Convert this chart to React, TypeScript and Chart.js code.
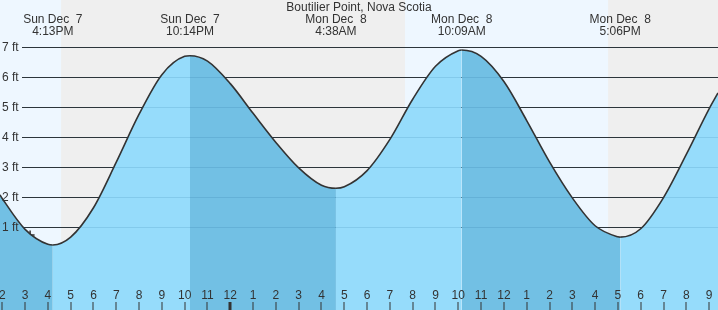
import React, { useEffect, useRef } from "react";
import { Chart, registerables } from "chart.js";

Chart.register(...registerables);

const chartTitle = "Boutilier Point, Nova Scotia";

// hours counted from Sun Dec 7 00:00, tide height in feet
const tideHours = [
  13.9, 14, 15, 16, 16.217, 17, 18, 19, 20, 21, 22, 22.233,
  23, 24, 25, 26, 27, 28, 28.633, 29, 30, 31, 32, 33, 34, 34.15,
  35, 36, 37, 38, 39, 40, 41, 41.1, 42, 43, 44, 45, 45.39,
];
const tideFeet = [
  2.07, 1.95, 0.92, 0.42, 0.4, 0.66, 1.64, 3.16, 4.76, 6.08, 6.69, 6.71,
  6.53, 5.78, 4.79, 3.82, 2.97, 2.39, 2.29, 2.34, 2.88, 3.92, 5.26, 6.36, 6.88, 6.9,
  6.69, 5.85, 4.55, 3.17, 1.97, 1.04, 0.67, 0.66, 0.94, 1.98, 3.42, 4.94, 5.47,
];

const extremeHours = [16.217, 22.233, 28.633, 34.15, 41.1];
const extremeDays = ["Sun Dec  7", "Sun Dec  7", "Mon Dec  8", "Mon Dec  8", "Mon Dec  8"];
const extremeTimes = ["4:13PM", "10:14PM", "4:38AM", "10:09AM", "5:06PM"];

const tickHours = [
  14, 15, 16, 17, 18, 19, 20, 21, 22, 23, 24, 25, 26, 27, 28, 29,
  30, 31, 32, 33, 34, 35, 36, 37, 38, 39, 40, 41, 42, 43, 44, 45,
];
const tickLabels = [
  "2", "3", "4", "5", "6", "7", "8", "9", "10", "11", "12", "1", "2", "3", "4", "5",
  "6", "7", "8", "9", "10", "11", "12", "1", "2", "3", "4", "5", "6", "7", "8", "9",
];
const midnightHours = [24];

const feetTicks = [1, 2, 3, 4, 5, 6, 7];
const feetLabels = ["1 ft", "2 ft", "3 ft", "4 ft", "5 ft", "6 ft", "7 ft"];

const nightStarts = [16.58, 40.57];
const nightEnds = [31.66, 45.39];

const nowHours = [15.22];
const nowFeet = [0.73];

const X_MIN = 13.9;
const X_MAX = 45.39;
const Y_MIN = -1.77;
const Y_MAX = 8.57;

const FONT = "12px 'Liberation Sans', Arial, sans-serif";
const TEXT = "#333";
const DAY = "#eef7ff";
const NIGHT = "#efefef";
const RISING = "rgb(150,220,251)";
const FALLING = "rgb(114,192,228)";

const tidePlugin = {
  id: "tideDecor",
  beforeDatasetsDraw(chart: any) {
    const { ctx, chartArea: a, scales } = chart;
    const x = scales.x;
    const y = scales.y;
    ctx.save();
    ctx.fillStyle = DAY;
    ctx.fillRect(a.left, a.top, a.right - a.left, a.bottom - a.top);
    ctx.fillStyle = NIGHT;
    nightStarts.forEach((s, i) => {
      const x0 = x.getPixelForValue(s);
      const x1 = x.getPixelForValue(nightEnds[i]);
      ctx.fillRect(x0, a.top, x1 - x0, a.bottom - a.top);
    });
    ctx.strokeStyle = "#333";
    ctx.lineWidth = 1;
    feetTicks.forEach((f) => {
      const py = Math.round(y.getPixelForValue(f)) + 0.5;
      ctx.beginPath();
      ctx.moveTo(22, py);
      ctx.lineTo(a.right, py);
      ctx.stroke();
    });
    ctx.restore();
  },
  afterDatasetsDraw(chart: any) {
    const { ctx, chartArea: a, scales } = chart;
    const x = scales.x;
    const y = scales.y;
    ctx.save();
    ctx.strokeStyle = "rgba(0,70,120,0.12)";
    ctx.lineWidth = 1;
    feetTicks.forEach((f) => {
      const py = Math.round(y.getPixelForValue(f)) + 0.5;
      ctx.beginPath();
      ctx.moveTo(22, py);
      ctx.lineTo(a.right, py);
      ctx.stroke();
    });
    ctx.font = FONT;
    ctx.fillStyle = TEXT;
    ctx.textAlign = "left";
    ctx.textBaseline = "middle";
    feetTicks.forEach((f, i) => {
      const py = Math.round(y.getPixelForValue(f)) + 0.5;
      ctx.fillText(feetLabels[i], 2, py);
    });
    ctx.textAlign = "center";
    tickHours.forEach((h, i) => {
      const px = x.getPixelForValue(h);
      ctx.fillStyle = TEXT;
      ctx.fillText(tickLabels[i], px, 296);
      ctx.fillStyle = "#333";
      if (midnightHours.includes(h)) {
        ctx.fillRect(Math.round(px) - 1.5, 302, 3, a.bottom - 302);
      } else {
        ctx.fillRect(Math.round(px) - 0.5, 302, 1, a.bottom - 302);
      }
    });
    ctx.fillStyle = TEXT;
    ctx.fillText(chartTitle, (a.left + a.right) / 2, 8);
    extremeHours.forEach((h, i) => {
      const px = x.getPixelForValue(h);
      ctx.fillText(extremeDays[i], px, 20);
      ctx.fillText(extremeTimes[i], px, 32);
    });
    ctx.restore();
  },
};

export default function App() {
  const canvasRef = useRef<HTMLCanvasElement | null>(null);
  useEffect(() => {
    document.body.style.margin = "0";
    const canvas = canvasRef.current;
    if (!canvas) return;
    const chart = new Chart(canvas, {
      type: "line",
      data: {
        datasets: [
          {
            label: "tide",
            data: tideHours.map((h, i) => ({ x: h, y: tideFeet[i] })),
            borderColor: "#333",
            borderWidth: 1.6,
            pointRadius: 0,
            cubicInterpolationMode: "monotone",
            fill: "start",
            backgroundColor: RISING,
            segment: {
              backgroundColor: (c: any) => (c.p1.parsed.y < c.p0.parsed.y ? FALLING : RISING),
            },
          } as any,
          {
            label: "now",
            data: nowHours.map((h, i) => ({ x: h, y: nowFeet[i] })),
            showLine: false,
            pointStyle: "cross",
            pointRadius: 4.5,
            borderColor: "#333",
            borderWidth: 1.5,
            fill: false,
          } as any,
        ],
      },
      options: {
        animation: false,
        responsive: true,
        maintainAspectRatio: false,
        layout: { padding: 0, autoPadding: false },
        plugins: { legend: { display: false }, tooltip: { enabled: false }, title: { display: false } },
        scales: {
          x: { type: "linear", display: false, min: X_MIN, max: X_MAX },
          y: { type: "linear", display: false, min: Y_MIN, max: Y_MAX },
        },
      },
      plugins: [tidePlugin],
    });
    return () => chart.destroy();
  }, []);
  return (
    <div style={{ width: 718, height: 310, position: "relative" }}>
      <canvas ref={canvasRef} />
    </div>
  );
}
